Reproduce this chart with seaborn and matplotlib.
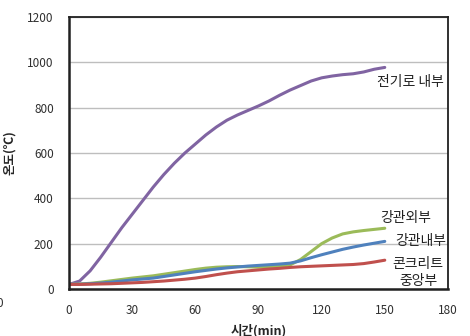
import numpy as np
import pandas as pd
import matplotlib
matplotlib.use("Agg")
import matplotlib.pyplot as plt
import seaborn as sns

# time axis (min)
minutes = list(range(0, 155, 5))

furnace = [20, 35, 80, 140, 205, 270, 330, 390, 450, 505, 555, 600, 640,
           680, 715, 745, 768, 788, 808, 830, 855, 878, 898, 918, 932,
           940, 946, 950, 958, 970, 978]
pipe_out = [20, 22, 25, 30, 36, 42, 48, 53, 58, 65, 72, 79, 86, 92, 96,
            98, 99, 98, 96, 97, 100, 106, 130, 165, 200, 225, 243, 252,
            258, 263, 268]
pipe_in = [20, 21, 23, 26, 30, 35, 40, 44, 48, 55, 62, 69, 76, 82, 88,
           93, 97, 101, 104, 107, 110, 114, 124, 138, 151, 163, 175, 185,
           194, 202, 210]
concrete = [20, 20, 21, 22, 23, 25, 27, 29, 32, 35, 39, 43, 48, 55, 63,
            70, 76, 80, 84, 88, 91, 95, 98, 100, 102, 104, 106, 108, 112,
            119, 127]

series_names = ["전기로 내부", "강관외부", "강관내부", "콘크리트 중앙부"]
series_colors = ["#8064A2", "#9BBB59", "#4F81BD", "#C0504D"]

x_ticks = [0, 30, 60, 90, 120, 150, 180]
y_ticks = [0, 200, 400, 600, 800, 1000, 1200]

df = pd.DataFrame({
    "min": minutes * 4,
    "temp": furnace + pipe_out + pipe_in + concrete,
    "series": sum([[n] * len(minutes) for n in series_names], []),
})

sns.set_style("white")
plt.rcParams["font.family"] = ["Noto Sans CJK KR", "DejaVu Sans"]

fig = plt.figure(figsize=(4.7, 3.36), dpi=100)
ax = fig.add_axes([0.147, 0.140, 0.806, 0.809])

sns.lineplot(data=df, x="min", y="temp", hue="series", hue_order=series_names,
             palette=series_colors, linewidth=2.2, legend=False, ax=ax)

ax.set_xlim(0, 180)
ax.set_ylim(0, 1200)
ax.set_xticks(x_ticks)
ax.set_yticks(y_ticks)
ax.tick_params(axis="x", direction="in", length=3, pad=11, labelsize=8.5,
               colors="#404040", labelcolor="#303030")
ax.tick_params(axis="y", length=0, pad=11, labelsize=8.5, labelcolor="#303030")
ax.grid(axis="y", color="#BEBEBE", linewidth=1)
ax.grid(axis="x", visible=False)
for side, spine in ax.spines.items():
    spine.set_color("#202020")
    spine.set_linewidth(1.3)
ax.spines["left"].set_linewidth(1.8)
ax.spines["bottom"].set_linewidth(1.8)

ax.set_xlabel("시간(min)", fontsize=9, fontweight="bold", labelpad=5)
ax.set_ylabel("온도(℃)", fontsize=9, fontweight="bold", labelpad=8)

lab_kw = dict(fontsize=10, color="#202020", ha="right", va="center")
ax.text(178, 915, "전기로 내부", **lab_kw)
ax.text(172, 315, "강관외부", **lab_kw)
ax.text(179, 212, "강관내부", **lab_kw)
ax.text(178, 112, "콘크리트", **lab_kw)
ax.text(175, 34, "중앙부", **lab_kw)

fig.text(0.0, 0.098, "0", fontsize=8.5, color="#303030", ha="center", va="center")

fig.savefig("out.png", dpi=100)
